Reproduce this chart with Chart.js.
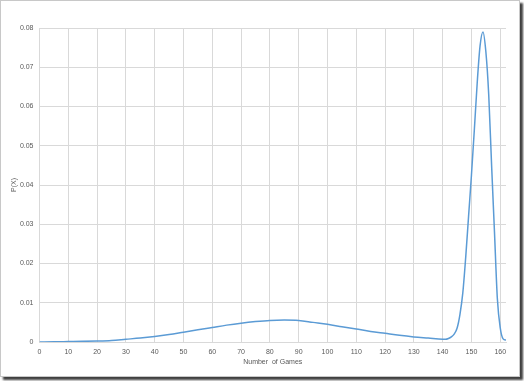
<!DOCTYPE html>
<html>
<head>
<meta charset="utf-8">
<script src="https://cdn.jsdelivr.net/npm/chart.js@4"></script>
<style>
  html, body { margin: 0; padding: 0; background: #ffffff; }
  #frame {
    position: absolute; left: 0; top: 0;
    width: 518px; height: 375px;
    border: 1px solid #c8c8c8;
    background: #ffffff;
    box-shadow: 3px 3px 2px #404040;
  }
  #wrap { position: absolute; left: 0; top: 0; width: 524px; height: 381px; }
</style>
</head>
<body>
<div id="frame"></div>
<div id="wrap"><canvas id="grafico" width="524" height="381"></canvas></div>
<script>
// Number of games (x) and probability P(X)
const jogos = [0, 5, 10, 15, 20, 25, 30, 35, 40, 45, 50, 55, 60, 65, 70, 75, 80, 85, 90, 95,
  100, 105, 110, 115, 120, 125, 130, 135, 140, 141, 142, 143, 144, 145, 146, 147, 148, 149,
  150, 151, 152, 153, 154, 155, 156, 157, 158, 159, 160, 161, 162];
const probabilidades = [0, 0.00004, 0.0001, 0.00016, 0.00025, 0.0004, 0.0007, 0.001, 0.0014, 0.0019,
  0.0025, 0.0031, 0.0037, 0.0043, 0.0048, 0.0052, 0.0055, 0.0056, 0.0055, 0.0050,
  0.0045, 0.0039, 0.0033, 0.0027, 0.0022, 0.0017, 0.0013, 0.0010, 0.0007, 0.0007, 0.0009, 0.0013,
  0.002, 0.0035, 0.007, 0.0125, 0.0215, 0.032, 0.0425, 0.054, 0.066, 0.0755, 0.079, 0.074,
  0.063, 0.045, 0.028, 0.011, 0.0036, 0.0008, 0.0005];
const ticksX = [0, 10, 20, 30, 40, 50, 60, 70, 80, 90, 100, 110, 120, 130, 140, 150, 160];

const pontos = jogos.map((x, i) => ({ x: x, y: probabilidades[i] }));

const fonte = { family: 'Liberation Sans', size: 7 };
const corTexto = '#595959';
const corGrade = '#d9d9d9';

const ctx = document.getElementById('grafico').getContext('2d');
new Chart(ctx, {
  type: 'line',
  data: {
    datasets: [{
      data: pontos,
      borderColor: '#5b9bd5',
      borderWidth: 1.5,
      pointRadius: 0,
      fill: false,
      cubicInterpolationMode: 'monotone'
    }]
  },
  options: {
    responsive: false,
    animation: false,
    layout: { padding: { left: 10, right: 18, top: 28, bottom: 15 } },
    plugins: { legend: { display: false }, tooltip: { enabled: false } },
    scales: {
      x: {
        type: 'linear',
        min: 0,
        max: 162,
        afterBuildTicks: scale => { scale.ticks = ticksX.map(v => ({ value: v })); },
        afterFit: scale => { scale.height = 24; },
        grid: { color: corGrade, drawTicks: false },
        border: { color: corGrade },
        ticks: { color: corTexto, font: fonte, padding: 6, maxRotation: 0, autoSkip: false },
        title: { display: true, text: 'Number  of Games', color: corTexto, font: fonte, padding: 0 }
      },
      y: {
        min: 0,
        max: 0.08,
        afterFit: scale => { scale.width = 29.5; },
        grid: { color: corGrade, drawTicks: false },
        border: { color: corGrade },
        ticks: { stepSize: 0.01, color: corTexto, font: fonte, padding: 6 },
        title: { display: true, text: 'P(X)', color: corTexto, font: fonte, padding: 0 }
      }
    }
  }
});
</script>
</body>
</html>
